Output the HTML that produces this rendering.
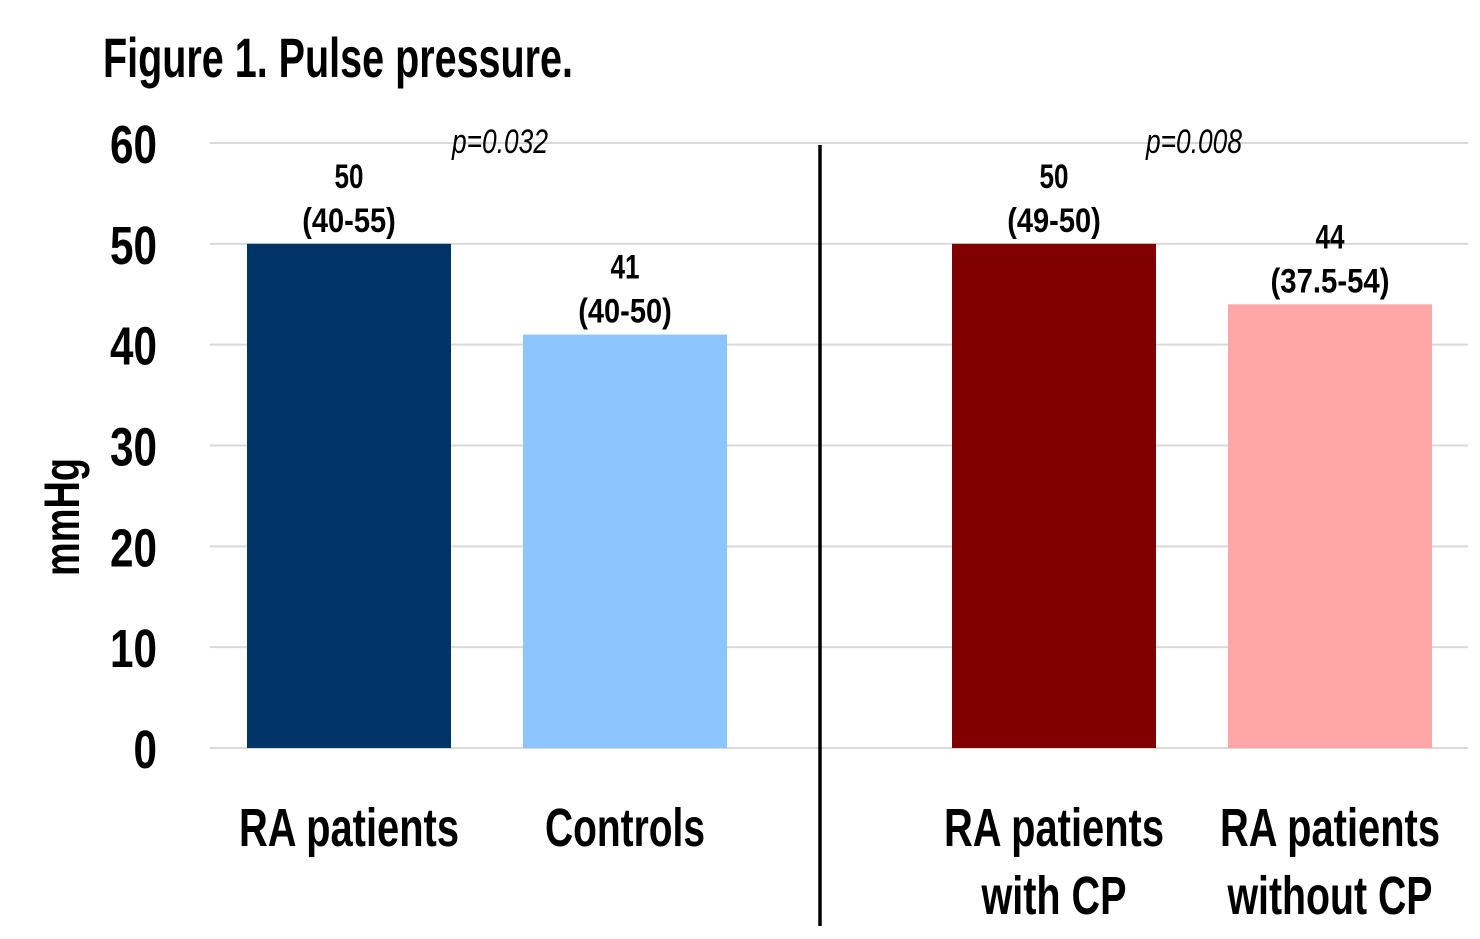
<!DOCTYPE html>
<html><head><meta charset="utf-8"><style>
html,body{margin:0;padding:0;background:#fff;}
svg{display:block;font-family:"Liberation Sans Narrow","Liberation Sans",sans-serif;font-weight:bold;}
</style></head><body>
<svg width="1480" height="939" viewBox="0 0 1480 939" id="chart">
<text x="103" y="77" font-size="56" textLength="470" lengthAdjust="spacingAndGlyphs">Figure 1. Pulse pressure.</text>
<text transform="translate(79,517) rotate(-90)" text-anchor="middle" font-size="50" textLength="118" lengthAdjust="spacingAndGlyphs">mmHg</text>
<g id="grid"></g><g id="ticks"></g><g id="bars"></g><g id="labels"></g>
<line x1="820" y1="145" x2="820" y2="926" stroke="#000" stroke-width="3.5"/>
<text x="500" y="153" text-anchor="middle" font-size="34" font-style="italic" font-weight="normal" textLength="96" lengthAdjust="spacingAndGlyphs">p=0.032</text>
<text x="1194" y="153" text-anchor="middle" font-size="34" font-style="italic" font-weight="normal" textLength="96" lengthAdjust="spacingAndGlyphs">p=0.008</text>
</svg>
<script>
const categories=[["RA patients"],["Controls"],["RA patients","with CP"],["RA patients","without CP"]];
const values=[50,41,50,44];
const ranges=["(40-55)","(40-50)","(49-50)","(37.5-54)"];
const tickValues=[0,10,20,30,40,50,60];
const colors=["#003366","#8CC5FF","#800000","#FFA7A7"];
const barCenters=[349,625,1054,1330];
const NS="http://www.w3.org/2000/svg";
function y(v){return 748-v*(748-143)/60;}
function mk(tag,attrs,parent,text){const e=document.createElementNS(NS,tag);for(const k in attrs)e.setAttribute(k,attrs[k]);if(text!==undefined)e.textContent=text;document.getElementById(parent).appendChild(e);return e;}
function tw(s,per){let w=0;for(const ch of s){w+=(ch==='('||ch===')'||ch==='.'||ch==='-')?per*0.5:(ch===' '?per*0.45:per);}return w;}
const catW={"RA patients":220,"Controls":160,"with CP":145,"without CP":205};
tickValues.forEach(t=>{
 const l=mk('line',{x1:210,x2:1468,y1:y(t),y2:y(t),stroke:'#d9d9d9','stroke-width':2},'grid');
 
 
 const s=String(t);
 const tx=mk('text',{x:157,y:y(t)+20,'text-anchor':'end','font-size':54,textLength:s.length*23.5,lengthAdjust:'spacingAndGlyphs'},'ticks',s);
 
 
});
values.forEach((v,i)=>{
 const c=barCenters[i],w=204;
 const r=mk('rect',{x:c-w/2,y:y(v),width:w,height:y(0)-y(v),fill:colors[i]},'bars');
 
 
 const s1=String(v);
 const t1=mk('text',{x:c,y:y(v)-56,'text-anchor':'middle','font-size':34,textLength:s1.length*14.5,lengthAdjust:'spacingAndGlyphs'},'labels',s1);
 
 
 const t2=mk('text',{x:c,y:y(v)-12,'text-anchor':'middle','font-size':34,textLength:tw(ranges[i],17),lengthAdjust:'spacingAndGlyphs'},'labels',ranges[i]);
 
 
 categories[i].forEach((line,j)=>{
  const tc=mk('text',{x:c,y:846+j*68,'text-anchor':'middle','font-size':54,textLength:catW[line]||tw(line,22),lengthAdjust:'spacingAndGlyphs'},'labels',line);
  
  
 });
});
</script>
</body></html>
